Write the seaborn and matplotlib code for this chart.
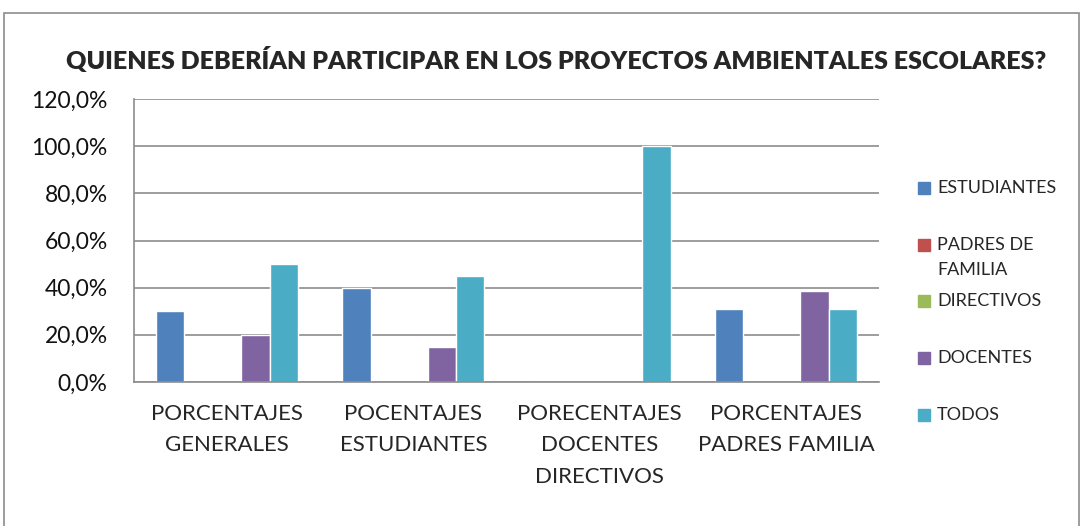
import pandas as pd
import matplotlib
matplotlib.use("Agg")
import matplotlib.pyplot as plt
import seaborn as sns
from matplotlib.ticker import FuncFormatter
from matplotlib.patches import Rectangle

# Datos
grupos = ["PORCENTAJES\nGENERALES", "POCENTAJES\nESTUDIANTES",
          "PORECENTAJES\nDOCENTES\nDIRECTIVOS", "PORCENTAJES\nPADRES FAMILIA"]
series = ["ESTUDIANTES", "PADRES DE FAMILIA", "DIRECTIVOS", "DOCENTES", "TODOS"]
estudiantes = [30.0, 40.0, 0.0, 30.8]
padres = [0.0, 0.0, 0.0, 0.0]
directivos = [0.0, 0.0, 0.0, 0.0]
docentes = [20.0, 15.0, 0.0, 38.5]
todos = [50.0, 45.0, 100.0, 30.8]
colores = ["#4F81BD", "#C0504D", "#9BBB59", "#8064A2", "#4BACC6"]
etiquetas_leyenda = ["ESTUDIANTES", "PADRES DE\nFAMILIA", "DIRECTIVOS", "DOCENTES", "TODOS"]

valores = [estudiantes, padres, directivos, docentes, todos]
filas = []
for s, vals in zip(series, valores):
    for g, v in zip(grupos, vals):
        filas.append({"grupo": g, "serie": s, "valor": v})
df = pd.DataFrame(filas)

sns.set_style("white")
plt.rcParams["font.family"] = ["Lato", "DejaVu Sans"]

fig = plt.figure(figsize=(10.84, 5.26), dpi=100)
ax = fig.add_axes([134/1084, 1-382/526, (879-134)/1084, (382-99)/526])

sns.barplot(data=df, x="grupo", y="valor", hue="serie", hue_order=series,
            palette=colores, width=0.763, saturation=1, ax=ax, legend=False)

ax.set_ylim(0, 120)
ax.set_xlim(-0.5, len(grupos) - 0.5)
ax.set_yticks(range(0, 121, 20))
ax.yaxis.set_major_formatter(FuncFormatter(lambda v, p: f"{v:.1f}%".replace(".", ",")))
ax.yaxis.grid(True, color="#8c8c8c", linewidth=1.2)
ax.set_axisbelow(True)
ax.set_xlabel("")
ax.set_ylabel("")

# ticks en los limites de categoria, etiquetas en el centro
ax.set_xticks([i - 0.5 for i in range(len(grupos) + 1)])
ax.set_xticklabels([])
ax.set_xticks(range(len(grupos)), minor=True)
ax.set_xticklabels(grupos, minor=True, fontsize=16, linespacing=1.7, va="top")
ax.tick_params(axis="x", which="major", direction="out", length=7, color="#8c8c8c", width=1.2)
ax.tick_params(axis="x", which="minor", length=0, pad=16)
ax.tick_params(axis="y", direction="out", length=7, color="#8c8c8c", width=1.2,
               labelsize=16.5, pad=12, labelcolor="#111111")

for lado in ["top", "right"]:
    ax.spines[lado].set_visible(False)
for lado in ["left", "bottom"]:
    ax.spines[lado].set_color("#8c8c8c")
    ax.spines[lado].set_linewidth(1.2)

fig.text(556/1084, 1-60/526, "QUIENES DEBERÍAN PARTICIPAR EN LOS PROYECTOS AMBIENTALES ESCOLARES?",
         ha="center", va="center", fontsize=18, fontweight="heavy")

# leyenda a la derecha
y0 = 188
for i, (lab, c) in enumerate(zip(etiquetas_leyenda, colores)):
    yc = y0 + i * 56.7
    fig.patches.append(Rectangle((918/1084, 1-(yc+6)/526), 12/1084, 12/526,
                                 transform=fig.transFigure, color=c))
    fig.text(937/1084, 1-(yc-8)/526, lab, ha="left", va="top", fontsize=13, linespacing=1.7)

# marco exterior
fig.patches.append(Rectangle((4/1084, -0.01), 1075/1084, 1-13/526+0.01,
                             transform=fig.transFigure, fill=False, edgecolor="#8c8c8c", linewidth=1.2))

plt.savefig("out.png", dpi=100)
